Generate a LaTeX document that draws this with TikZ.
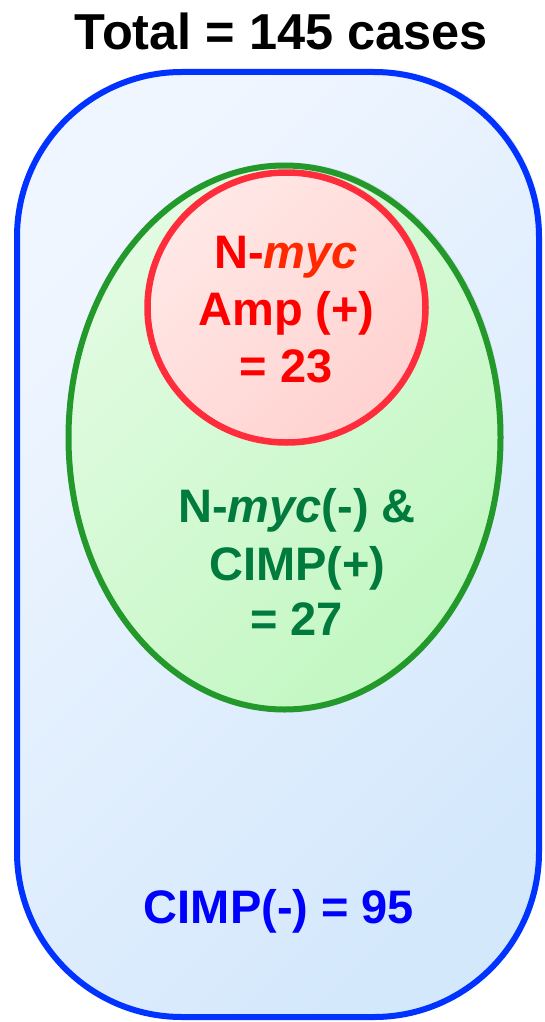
\documentclass[tikz,border=0pt]{standalone}
\usepackage{fontspec}
\setmainfont{Liberation Sans}
\usetikzlibrary{shadows}
\definecolor{bluestroke}{RGB}{0,51,255}
\definecolor{bluetext}{RGB}{0,0,255}
\definecolor{bluefillA}{RGB}{240,246,255}
\definecolor{bluefillB}{RGB}{212,232,252}
\definecolor{greenstroke}{RGB}{34,153,42}
\definecolor{greenfillA}{RGB}{226,251,226}
\definecolor{greenfillB}{RGB}{194,247,194}
\definecolor{greentext}{RGB}{0,122,61}
\definecolor{redstroke}{RGB}{255,45,60}
\definecolor{redfillA}{RGB}{255,232,230}
\definecolor{redfillB}{RGB}{255,210,208}
\definecolor{redtext}{RGB}{255,0,0}
\definecolor{redital}{RGB}{255,40,0}
\tikzset{
  setline/.style={line width=6pt},
  lbl/.style={anchor=base, inner sep=0pt, font=\bfseries\fontsize{47}{57}\selectfont},
  titlelbl/.style={anchor=base, inner sep=0pt, font=\bfseries\fontsize{50.5}{60}\selectfont},
  softshadow/.style={drop shadow={opacity=0.10, shadow xshift=3pt, shadow yshift=3pt, fill=black!60}}
}
\begin{document}
\begin{tikzpicture}[x=1pt,y=-1pt]
\useasboundingbox (0,0) rectangle (545,1022);
% outer set
\shade[softshadow, top color=bluefillA, bottom color=bluefillB, shading angle=45, rounded corners=165pt]
  (17,72) rectangle (539,1017);
\draw[setline, draw=bluestroke, rounded corners=165pt] (17,72) rectangle (539,1017);
% green ellipse
\shade[softshadow, top color=greenfillA, bottom color=greenfillB, shading angle=45]
  (284.5,437.5) ellipse [x radius=216, y radius=272];
\draw[setline, draw=greenstroke] (284.5,437.5) ellipse [x radius=216, y radius=272];
% red circle
\shade[softshadow, top color=redfillA, bottom color=redfillB, shading angle=45]
  (286.5,307.5) ellipse [x radius=139, y radius=135];
\draw[setline, draw=redstroke, line width=6.5pt] (286.5,307.5) ellipse [x radius=139, y radius=135];
% labels
\node[titlelbl, text=black] (title) at (281.5,50) {Total = 145 cases};
\node[lbl, text=redtext] (red1) at (286,268) {N-\textit{\color{redital}myc}};
\node[lbl, text=redtext] (red2) at (286.5,325) {Amp (+)};
\node[lbl, text=redtext] (red3) at (286,382) {= 23};
\node[lbl, text=greentext] (green1) at (297,522) {N-\textit{myc}(-) \&};
\node[lbl, text=greentext] (green2) at (297.5,580) {CIMP(+)};
\node[lbl, text=greentext] (green3) at (296.5,635) {= 27};
\node[lbl, text=bluetext] (blue1) at (279,923) {CIMP(-) = 95};
\end{tikzpicture}
\end{document}
